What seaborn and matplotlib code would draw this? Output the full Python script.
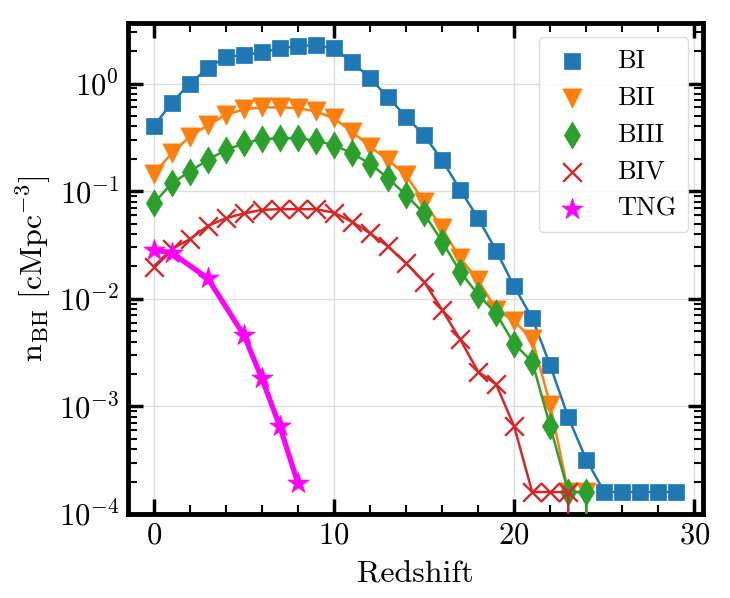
import numpy as np
import pandas as pd
import matplotlib
matplotlib.use("Agg")
import matplotlib.pyplot as plt
import seaborn as sns

# number density of BHs vs redshift
z_bi = list(range(0, 30))
n_bi = [0.40, 0.66, 1.00, 1.38, 1.77, 1.84, 1.95, 2.12, 2.23, 2.28,
        2.12, 1.59, 1.12, 0.744, 0.492, 0.33, 0.195, 0.103, 0.056, 0.028,
        0.013, 0.0066, 0.0024, 7.9e-4, 3.2e-4, 1.6e-4, 1.6e-4, 1.6e-4, 1.6e-4, 1.6e-4]

z_bii = list(range(0, 26))
n_bii = [0.144, 0.225, 0.32, 0.41, 0.51, 0.575, 0.60, 0.60, 0.59, 0.55,
         0.475, 0.357, 0.259, 0.195, 0.14, 0.080, 0.045, 0.0238, 0.015, 0.0079,
         0.0062, 0.0042, 0.00104, 1.6e-4, 1.6e-4, 0.0]

z_biii = list(range(0, 26))
n_biii = [0.077, 0.118, 0.152, 0.195, 0.241, 0.278, 0.303, 0.31, 0.31, 0.294,
          0.268, 0.225, 0.18, 0.132, 0.092, 0.062, 0.034, 0.0179, 0.0109, 0.0073,
          0.0038, 0.0026, 6.5e-4, 1.6e-4, 1.6e-4, 0.0]

z_biv = list(range(0, 25))
n_biv = [0.0199, 0.0289, 0.0357, 0.0475, 0.056, 0.062, 0.067, 0.068, 0.068, 0.068,
         0.063, 0.052, 0.0406, 0.0306, 0.0214, 0.0144, 0.0079, 0.0042, 0.0021, 0.0016,
         6.5e-4, 1.6e-4, 1.6e-4, 1.6e-4, 0.0]

z_tng = [0, 1, 3, 5, 6, 7, 8]
n_tng = [0.0284, 0.0267, 0.0155, 0.0046, 0.00183, 6.5e-4, 1.94e-4]

sns.set_style("ticks")
plt.rcParams['font.family'] = 'serif'
plt.rcParams['font.serif'] = ['cmr10', 'DejaVu Serif']
plt.rcParams['mathtext.fontset'] = 'cm'
plt.rcParams['axes.formatter.use_mathtext'] = True
plt.rcParams['font.size'] = 19
for k in ['text.color', 'axes.labelcolor', 'xtick.color', 'ytick.color', 'axes.edgecolor']:
    plt.rcParams[k] = 'black'

fig = plt.figure(figsize=(7.3, 5.98), dpi=100)
ax = fig.add_axes([0.1747, 0.1405, 0.7877, 0.8217])

series = [
    ("BI", z_bi, n_bi, "#1f77b4", "s", 120, 1.8),
    ("BII", z_bii, n_bii, "#ff7f0e", "v", 190, 1.8),
    ("BIII", z_biii, n_biii, "#2ca02c", "d", 190, 1.8),
    ("BIV", z_biv, n_biv, "#d62728", "x", 180, 1.8),
    ("TNG", z_tng, n_tng, "#ff00ff", "*", 260, 3.8),
]

for name, zz, nn, col, mk, sz, lw in series:
    df = pd.DataFrame({"z": zz, "n": nn})
    if mk == "x":
        sns.scatterplot(data=df, x="z", y="n", marker=mk, s=sz, color=col,
                        linewidth=1.7, label=name, ax=ax, zorder=3)
    else:
        sns.scatterplot(data=df, x="z", y="n", marker=mk, s=sz, color=col,
                        edgecolor=col, linewidth=0.5, label=name, ax=ax, zorder=3)
    sns.lineplot(data=df, x="z", y="n", color=col, lw=lw, estimator=None,
                 ax=ax, zorder=3)

ax.set_yscale("log")
ax.set_ylim(1e-4, 3.68)
ax.set_xticks([0, 10, 20, 30])
ax.set_xticks(np.arange(0, 31, 2), minor=True)
ax.grid(True, which="major", color="#dddddd", lw=1.0, zorder=0)

for s in ax.spines.values():
    s.set_linewidth(3.5)
ax.tick_params(which="both", direction="in", top=True, right=True)
ax.tick_params(which="major", length=10.5, width=2.5, labelsize=22, pad=6)
ax.tick_params(which="minor", length=6.5, width=1.5)

ax.set_xlabel("Redshift", fontsize=23, labelpad=8)
ax.set_ylabel(r"$\mathrm{n_{BH}\ [cMpc^{-3}]}$", fontsize=23, labelpad=4)

leg = ax.legend(loc="upper right", fontsize=19, frameon=True, labelspacing=0.5,
                handlelength=1.6, handletextpad=0.9, borderpad=0.45,
                borderaxespad=0.55)
leg.get_frame().set_edgecolor("#d5d5d5")

plt.savefig("out.png", dpi=100)
